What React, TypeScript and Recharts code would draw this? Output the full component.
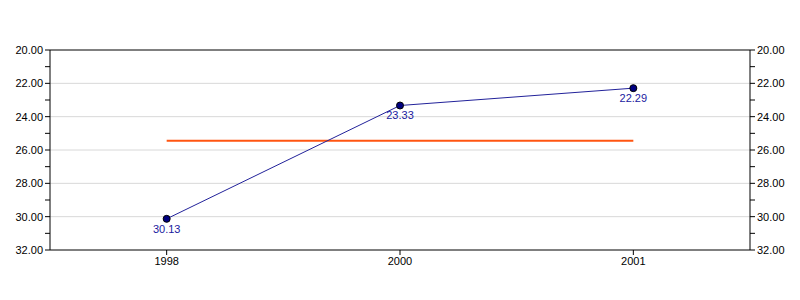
import { ComposedChart, Line, XAxis, YAxis, CartesianGrid, LabelList, ReferenceLine } from 'recharts'

const years = ['1998', '2000', '2001']
const values = [30.13, 23.33, 22.29]
const reference = [25.44, 25.44, 25.44]
const yTicks = [20, 21, 22, 23, 24, 25, 26, 27, 28, 29, 30, 31, 32]
const gridTicks = [22, 24, 26, 28, 30]

const data = years.map((year, i) => ({ year, value: values[i], ref: reference[i] }))

const FONT = '"Liberation Sans", Arial, sans-serif'

// only the even ticks get a label, odd ones are minor ticks
const fmt = (v: number) => (v % 2 === 0 ? v.toFixed(2) : '')

const tickStyle = { fontSize: 11, fill: '#000', fontFamily: FONT }

export default function App() {
  return (
    <div style={{ position: 'absolute', left: 0, top: 0, width: 800, height: 300, background: '#fff', fontFamily: FONT }}>
      <ComposedChart width={800} height={300} data={data} margin={{ top: 50, right: 0, bottom: 0, left: 0 }}>
        <CartesianGrid yAxisId="left" horizontal vertical={false} horizontalValues={gridTicks} stroke="#d8d8d8" />
        <XAxis dataKey="year" scale="band" height={50} stroke="#000" tickSize={5} tick={tickStyle} />
        <YAxis
          yAxisId="left"
          width={50}
          reversed
          domain={[20, 32]}
          ticks={yTicks}
          interval={0}
          tickFormatter={fmt}
          tickSize={5}
          stroke="#000"
          tick={tickStyle}
        />
        <YAxis
          yAxisId="right"
          orientation="right"
          width={50}
          reversed
          domain={[20, 32]}
          ticks={yTicks}
          interval={0}
          tickFormatter={fmt}
          tickSize={5}
          stroke="#000"
          tick={tickStyle}
        />
        <ReferenceLine yAxisId="left" y={20} stroke="#000" />
        <Line
          yAxisId="right"
          dataKey="ref"
          stroke="#ff5511"
          strokeWidth={2}
          dot={false}
          isAnimationActive={false}
        />
        <Line
          yAxisId="left"
          dataKey="value"
          stroke="#22229a"
          strokeWidth={1}
          dot={{ r: 3.5, fill: '#000080', stroke: '#000', strokeWidth: 1 }}
          isAnimationActive={false}
        >
          <LabelList
            dataKey="value"
            position="bottom"
            offset={6}
            formatter={(v: number) => v.toFixed(2)}
            style={{ fontSize: 11, fill: '#1a1aa0', fontFamily: FONT }}
          />
        </Line>
      </ComposedChart>
    </div>
  )
}
